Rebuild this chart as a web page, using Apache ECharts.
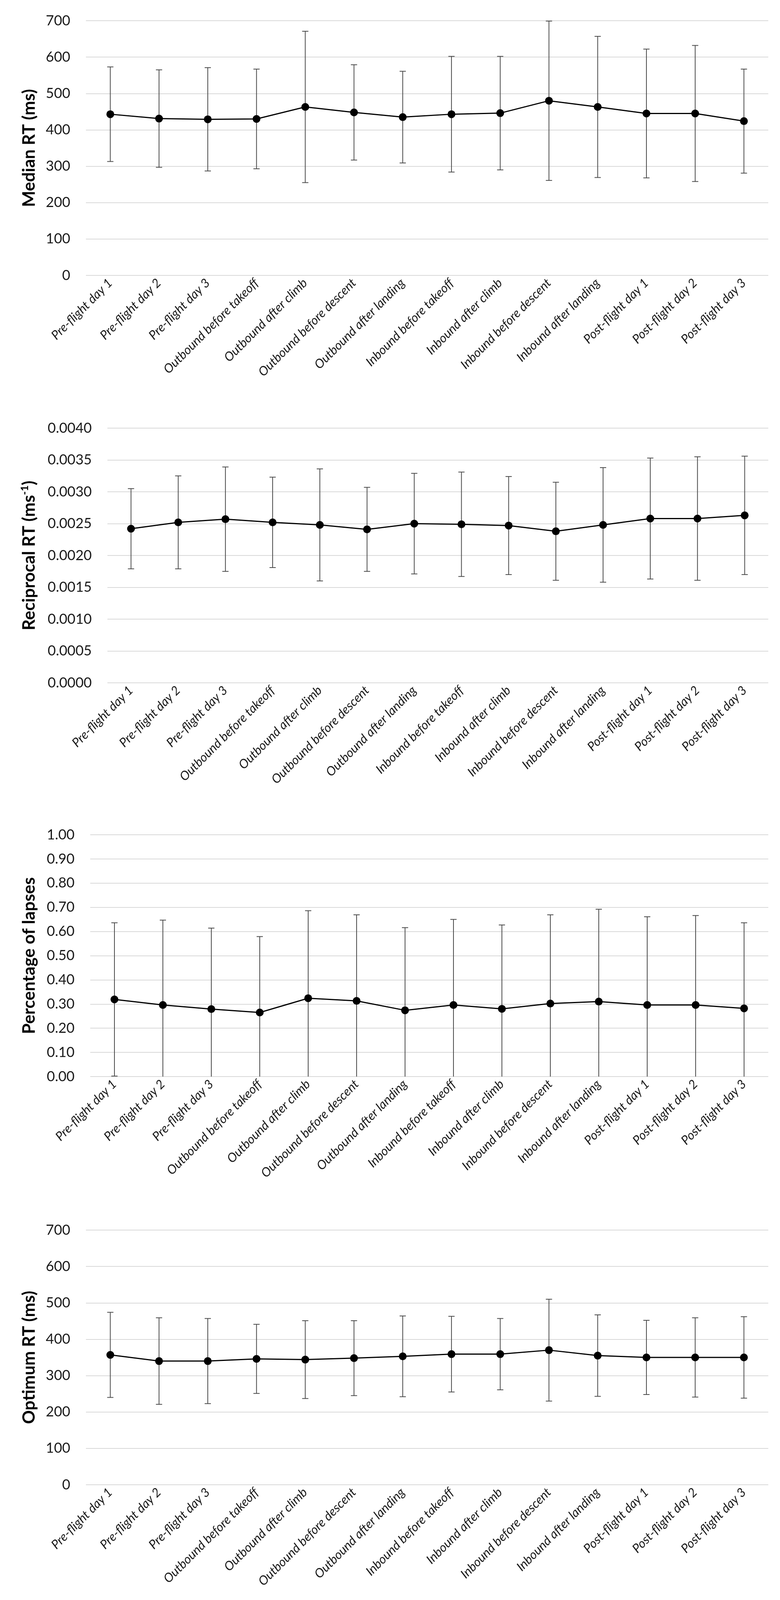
<!DOCTYPE html>
<html>
<head>
<meta charset="utf-8">
<script src="https://cdn.jsdelivr.net/npm/echarts@6/dist/echarts.min.js"></script>
<style>
html,body{margin:0;padding:0;background:#fff;}
#chart{width:1997px;height:5151px;}
</style>
</head>
<body>
<div id="chart"></div>
<script>
const categories = ['Pre-flight day 1','Pre-flight day 2','Pre-flight day 3','Outbound before takeoff','Outbound after climb','Outbound before descent','Outbound after landing','Inbound before takeoff','Inbound after climb','Inbound before descent','Inbound after landing','Post-flight day 1','Post-flight day 2','Post-flight day 3'];

const medianMean = [443,431,429,430,463,448,435,443,446,480,463,445,445,424];
const medianSD   = [130,134,142,137,208,131,126,159,156,219,194,177,187,143];

const reciprocalMean = [0.00242,0.00252,0.00257,0.00252,0.00248,0.00241,0.00250,0.00249,0.00247,0.00238,0.00248,0.00258,0.00258,0.00263];
const reciprocalSD   = [0.00063,0.00073,0.00082,0.00071,0.00088,0.00066,0.00079,0.00082,0.00077,0.00077,0.00090,0.00095,0.00097,0.00093];

const lapsesMean = [0.319,0.296,0.279,0.265,0.324,0.313,0.274,0.296,0.280,0.302,0.310,0.296,0.296,0.282];
const lapsesSD   = [0.317,0.351,0.335,0.314,0.362,0.356,0.342,0.354,0.347,0.367,0.382,0.365,0.370,0.354];

const optimumMean = [357,340,340,346,344,348,353,359,359,370,355,350,350,350];
const optimumSD   = [117,119,117,95,107,103,111,104,98,140,112,102,109,112];

const slowestMean = [0.00242,0.00251,0.00257,0.00252,0.00248,0.00242,0.00249,0.00249,0.00247,0.00238,0.00247,0.00257,0.00259,0.00262];
const slowestSD   = [0.00180,0.00239,0.00251,0.00187,0.00242,0.00216,0.00230,0.00180,0.00147,0.00180,0.00168,0.00200,0.00203,0.00209];

const FONT = 'Lato, "Open Sans", sans-serif';

const panels = [
  {name:'{t|Median RT (ms)}', mean:medianMean, sd:medianSD, min:0, max:700, interval:100, dec:0, left:220, top:53, height:652, gap:121},
  {name:'{t|Reciprocal RT (ms}{s|-1}{t|)}', mean:reciprocalMean, sd:reciprocalSD, min:0, max:0.004, interval:0.0005, dec:4, left:275, top:1096, height:652, gap:176},
  {name:'{t|Percentage of lapses}', mean:lapsesMean, sd:lapsesSD, min:0, max:1, interval:0.1, dec:2, left:231, top:2137, height:619, gap:132},
  {name:'{t|Optimum RT (ms)}', mean:optimumMean, sd:optimumSD, min:0, max:700, interval:100, dec:0, left:220, top:3149, height:652, gap:121},
  {name:'{t|Slowest 10% reciprocal RT (ms}{s|-1}{t|)}', mean:slowestMean, sd:slowestSD, min:0, max:0.006, interval:0.001, dec:4, left:275, top:4191, height:620, gap:176}
];

function errRender(params, api) {
  const x = api.value(0), lo = api.value(1), hi = api.value(2);
  const loC = Math.max(lo, 0);
  const pT = api.coord([x, hi]);
  const pB = api.coord([x, loC]);
  const half = 8;
  const st = {stroke:'#4a4a4a', lineWidth:2};
  const children = [
    {type:'line', shape:{x1:pT[0], y1:pT[1], x2:pB[0], y2:pB[1]}, style:st},
    {type:'line', shape:{x1:pT[0]-half, y1:pT[1], x2:pT[0]+half, y2:pT[1]}, style:st}
  ];
  if (lo >= 0) {
    children.push({type:'line', shape:{x1:pB[0]-half, y1:pB[1], x2:pB[0]+half, y2:pB[1]}, style:st});
  }
  return {type:'group', children};
}

const grid = [], xAxis = [], yAxis = [], series = [];
panels.forEach((p, i) => {
  grid.push({left:p.left, right:30, top:p.top, height:p.height});
  xAxis.push({
    type:'category', gridIndex:i, data:categories, boundaryGap:true,
    axisLine:{show:false}, axisTick:{show:false},
    axisLabel:{interval:0, rotate:45, fontFamily:FONT, fontStyle:'italic', fontSize:32, color:'#1a1a1a', margin:14}
  });
  yAxis.push({
    type:'value', gridIndex:i, min:p.min, max:p.max, interval:p.interval,
    axisLine:{show:false}, axisTick:{show:false},
    axisLabel:{fontFamily:FONT, fontSize:36, color:'#1a1a1a', margin:40, formatter:v => v.toFixed(p.dec)},
    splitLine:{show:true, lineStyle:{color:'#d9d9d9', width:2}},
    name:p.name, nameLocation:'middle', nameGap:p.gap, nameRotate:90,
    nameTextStyle:{
      rich:{
        t:{fontFamily:FONT, fontWeight:'bold', fontSize:44, color:'#000', lineHeight:48},
        s:{fontFamily:FONT, fontWeight:'bold', fontSize:26, color:'#000', lineHeight:48, verticalAlign:'top', padding:[0,0,20,0]}
      }
    }
  });
  const errData = p.mean.map((m, k) => [k, m - p.sd[k], m + p.sd[k]]);
  series.push({
    type:'custom', xAxisIndex:i, yAxisIndex:i, renderItem:errRender, data:errData, z:1, silent:true
  });
  series.push({
    type:'line', xAxisIndex:i, yAxisIndex:i, data:p.mean, symbol:'circle', symbolSize:20,
    itemStyle:{color:'#000'}, lineStyle:{color:'#000', width:3}, z:3, silent:true, animation:false
  });
});

const chart = echarts.init(document.getElementById('chart'), null, {renderer:'canvas'});
chart.setOption({backgroundColor:'#fff', animation:false, grid, xAxis, yAxis, series});
</script>
</body>
</html>
